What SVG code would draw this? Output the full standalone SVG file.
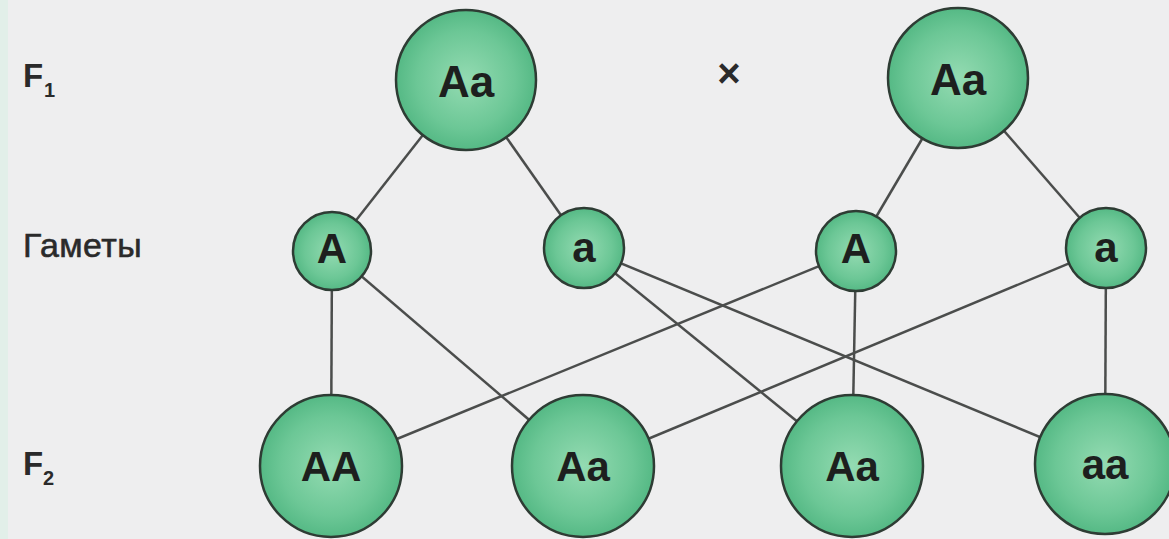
<svg xmlns="http://www.w3.org/2000/svg" width="1169" height="539" viewBox="0 0 1169 539">
  <defs>
    <radialGradient id="g" cx="50%" cy="50%" r="50%">
      <stop offset="0" stop-color="#94dbb2"/>
      <stop offset="0.7" stop-color="#6cc796"/>
      <stop offset="1" stop-color="#55b985"/>
    </radialGradient>
    <style>
      .n { fill: url(#g); stroke: #2e3c34; stroke-width: 2.5; }
      .t { font-family: "Liberation Sans", Arial, sans-serif; font-weight: bold; fill: #1d1f1e; text-anchor: middle; }
      .big { font-size: 44px; }
      .mid { font-size: 42px; }
      .lbl { font-family: "Liberation Sans", Arial, sans-serif; fill: #2a2a2a; }
      .c line { stroke: #4b4d4c; stroke-width: 2.5; }
    </style>
  </defs>
  <rect width="1169" height="539" fill="#eeeeef"/>
  <rect width="8" height="539" fill="#e2efe9"/>

  <g id="labels">
    <text class="lbl" x="23" y="87" font-size="33" font-weight="bold">F</text>
    <text class="lbl" x="44" y="97" font-size="20" font-weight="bold">1</text>
    <text class="lbl" x="23" y="257" font-size="34" stroke="#2a2a2a" stroke-width="0.6" letter-spacing="0.4">Гаметы</text>
    <text class="lbl" x="23" y="475" font-size="33" font-weight="bold">F</text>
    <text class="lbl" x="43" y="485" font-size="20" font-weight="bold">2</text>
    <text class="lbl" x="729" y="87" font-size="40" font-weight="bold" text-anchor="middle">×</text>
  </g>

  <g id="connectors" class="c">
    <line x1="466" y1="80" x2="332" y2="251"/>
    <line x1="466" y1="80" x2="584" y2="248"/>
    <line x1="958" y1="78" x2="856" y2="251"/>
    <line x1="958" y1="78" x2="1106" y2="248"/>
    <line x1="332" y1="251" x2="331" y2="466"/>
    <line x1="332" y1="251" x2="583" y2="466"/>
    <line x1="584" y1="248" x2="852" y2="466"/>
    <line x1="584" y1="248" x2="1105" y2="464"/>
    <line x1="856" y1="251" x2="331" y2="466"/>
    <line x1="856" y1="251" x2="852" y2="466"/>
    <line x1="1106" y1="248" x2="583" y2="466"/>
    <line x1="1106" y1="248" x2="1105" y2="464"/>
  </g>

  <g id="p1"><circle class="n" cx="466" cy="80" r="70"/><text class="t big" x="466" y="97">Aa</text></g>
  <g id="p2"><circle class="n" cx="958" cy="78" r="70"/><text class="t big" x="958" y="95">Aa</text></g>

  <g id="gA1"><circle class="n" cx="332" cy="251" r="39"/><text class="t mid" x="332" y="263">A</text></g>
  <g id="ga1"><circle class="n" cx="584" cy="248" r="40"/><text class="t mid" x="584" y="262">a</text></g>
  <g id="gA2"><circle class="n" cx="856" cy="251" r="40"/><text class="t mid" x="856" y="263">A</text></g>
  <g id="ga2"><circle class="n" cx="1106" cy="248" r="40"/><text class="t mid" x="1106" y="262">a</text></g>

  <g id="oAA"><circle class="n" cx="331" cy="466" r="71"/><text class="t mid" x="331" y="481">AA</text></g>
  <g id="oAa1"><circle class="n" cx="583" cy="466" r="71"/><text class="t mid" x="583" y="481">Aa</text></g>
  <g id="oAa2"><circle class="n" cx="852" cy="466" r="71"/><text class="t mid" x="852" y="481">Aa</text></g>
  <g id="oaa"><circle class="n" cx="1105" cy="464" r="70"/><text class="t mid" x="1105" y="479">aa</text></g>
</svg>
